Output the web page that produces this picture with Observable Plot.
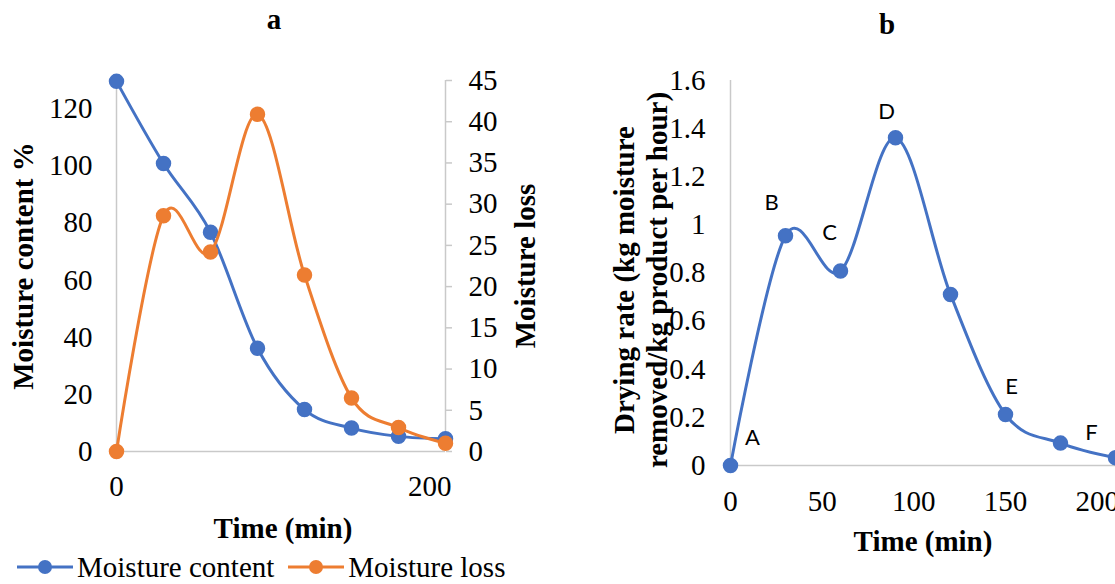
<!DOCTYPE html>
<html><head><meta charset="utf-8">
<script src="https://cdn.jsdelivr.net/npm/d3@7"></script>
<script src="https://cdn.jsdelivr.net/npm/@observablehq/plot@0.6"></script>
<style>
body{margin:0;background:#fff;}
#wrap{position:relative;width:1115px;height:584px;overflow:hidden;background:#fff;font-family:"Liberation Serif","Times New Roman",serif;}
#pa{position:absolute;left:0;top:0;}
#pb{position:absolute;left:560px;top:0;}
#legend{position:absolute;left:17px;top:550px;height:34px;display:flex;align-items:center;font-size:29px;line-height:34px;color:#000;white-space:nowrap;}
#legend .item{display:flex;align-items:center;margin-right:14px;}
#legend svg{display:block;margin-right:4px;}
</style></head>
<body><div id="wrap"><div id="pa"></div><div id="pb"></div><div id="legend"></div></div>
<script>
// ---- data ----
const time = [0, 30, 60, 90, 120, 150, 180, 210];
const moistureContent = [129.7, 100.9, 76.8, 36.2, 14.7, 8.2, 5.3, 4.5];
const moistureLoss = [0, 28.6, 24.2, 40.9, 21.4, 6.5, 2.9, 1.0];
const dryingRate = [0, 0.955, 0.808, 1.362, 0.711, 0.212, 0.093, 0.032];
const stageLabels = ["A", "B", "C", "D", null, "E", "F", null];
const leftTicksA = [0, 20, 40, 60, 80, 100, 120];
const rightTicksA = [0, 5, 10, 15, 20, 25, 30, 35, 40, 45];
const xTicksA = [0, 200];
const xTicksB = [0, 50, 100, 150, 200];
const yTicksB = [0, 0.2, 0.4, 0.6, 0.8, 1, 1.2, 1.4, 1.6];
const seriesNames = ["Moisture content", "Moisture loss"];

// ---- style / layout ----
const BLUE = "#4472C4", ORANGE = "#ED7D31", GRID = "#c9c9c9";
const SERIF = "Liberation Serif, Times New Roman, serif";
const FS = 29;
const leftMax = 130, rightMax = 45, k = leftMax / rightMax;
const labelOffsets = {A: [22, -28], B: [-14, -33], C: [-11, -38], D: [-9, -26], E: [6, -28], F: [31, -10]};

const rowsA = time.map((t, i) => ({t, mc: moistureContent[i], ml: moistureLoss[i] * k}));
const rowsB = time.map((t, i) => ({t, r: dryingRate[i], lab: stageLabels[i]}));

const chartA = Plot.plot({
  width: 560, height: 584,
  marginLeft: 116, marginRight: 115, marginTop: 80, marginBottom: 133,
  style: {fontFamily: SERIF, fontSize: FS + "px", background: "white", color: "black", overflow: "visible"},
  x: {domain: [0, 210]},
  y: {domain: [0, leftMax]},
  marks: [
    Plot.ruleX([0], {stroke: GRID, strokeWidth: 1.5}),
    Plot.ruleX([210], {stroke: GRID, strokeWidth: 1.5}),
    Plot.ruleY([0], {stroke: GRID, strokeWidth: 1.5}),
    Plot.axisY(leftTicksA, {anchor: "left", tickSize: 0, tickPadding: 24, label: null, fontSize: FS}),
    Plot.axisY(rightTicksA.map(v => v * k), {anchor: "right", tickSize: 6, stroke: GRID, strokeWidth: 1.5, tickPadding: 17, label: null, fontSize: FS, tickFormat: d => String(Math.round(d / k))}),
    Plot.axisX(xTicksA, {anchor: "bottom", tickSize: 0, tickPadding: 24, label: null, fontSize: FS}),
    Plot.line(rowsA, {x: "t", y: "mc", stroke: BLUE, strokeWidth: 3, curve: "cardinal"}),
    Plot.dot(rowsA, {x: "t", y: "mc", r: 7, fill: BLUE, stroke: BLUE}),
    Plot.line(rowsA, {x: "t", y: "ml", stroke: ORANGE, strokeWidth: 3, curve: "cardinal"}),
    Plot.dot(rowsA, {x: "t", y: "ml", r: 7, fill: ORANGE, stroke: ORANGE}),
    Plot.text(["a"], {frameAnchor: "top", textAnchor: "middle", lineAnchor: "middle", dx: -7, dy: -61, fontWeight: "bold", fontSize: FS, fill: "black"}),
    Plot.text(["Moisture content %"], {frameAnchor: "left", textAnchor: "middle", lineAnchor: "middle", rotate: -90, dx: -93, dy: 0, fontWeight: "bold", fontSize: FS, fill: "black"}),
    Plot.text(["Moisture loss"], {frameAnchor: "right", textAnchor: "middle", lineAnchor: "middle", rotate: -90, dx: 80, dy: 0, fontWeight: "bold", fontSize: FS, fill: "black"}),
    Plot.text(["Time (min)"], {frameAnchor: "bottom", textAnchor: "middle", lineAnchor: "middle", dx: 2, dy: 77, fontWeight: "bold", fontSize: FS, fill: "black"})
  ]
});
document.getElementById("pa").append(chartA);

const labelMarks = rowsB.filter(d => d.lab).map(d =>
  Plot.text([d], {x: "t", y: "r", text: "lab", dx: labelOffsets[d.lab][0], dy: labelOffsets[d.lab][1],
    fontFamily: "Lato, Open Sans, sans-serif", fontSize: 22, fill: "black", lineAnchor: "middle"}));

const chartB = Plot.plot({
  width: 555, height: 584,
  marginLeft: 170, marginRight: 0, marginTop: 80, marginBottom: 119,
  style: {fontFamily: SERIF, fontSize: FS + "px", background: "white", color: "black", overflow: "visible"},
  x: {domain: [0, 210]},
  y: {domain: [0, 1.6]},
  marks: [
    Plot.ruleX([0], {stroke: GRID, strokeWidth: 1.5}),
    Plot.ruleY([0], {stroke: GRID, strokeWidth: 1.5}),
    Plot.axisY(yTicksB, {anchor: "left", tickSize: 0, tickPadding: 25, label: null, fontSize: FS, tickFormat: d => String(+d.toFixed(1))}),
    Plot.axisX(xTicksB, {anchor: "bottom", tickSize: 0, tickPadding: 25, label: null, fontSize: FS}),
    Plot.line(rowsB, {x: "t", y: "r", stroke: BLUE, strokeWidth: 3, curve: "cardinal"}),
    Plot.dot(rowsB, {x: "t", y: "r", r: 7, fill: BLUE, stroke: BLUE}),
    ...labelMarks,
    Plot.text(["b"], {frameAnchor: "top", textAnchor: "middle", lineAnchor: "middle", dx: -36, dy: -56, fontWeight: "bold", fontSize: FS, fill: "black"}),
    Plot.text(["Drying rate (kg moisture\nremoved/kg product per hour)"], {frameAnchor: "left", textAnchor: "middle", lineAnchor: "middle", rotate: -90, dx: -91, dy: 7, lineHeight: 1.14, fontWeight: "bold", fontSize: FS, fill: "black"}),
    Plot.text(["Time (min)"], {frameAnchor: "bottom", textAnchor: "middle", lineAnchor: "middle", dx: 0, dy: 76, fontWeight: "bold", fontSize: FS, fill: "black"})
  ]
});
document.getElementById("pb").append(chartB);

// legend
const legend = document.getElementById("legend");
[[seriesNames[0], BLUE], [seriesNames[1], ORANGE]].forEach(([name, c]) => {
  const item = document.createElement("span");
  item.className = "item";
  item.innerHTML = `<svg width="56" height="20"><line x1="0" y1="10" x2="56" y2="10" stroke="${c}" stroke-width="3"/><circle cx="28" cy="10" r="7" fill="${c}"/></svg><span>${name}</span>`;
  legend.append(item);
});
</script>
</body></html>
